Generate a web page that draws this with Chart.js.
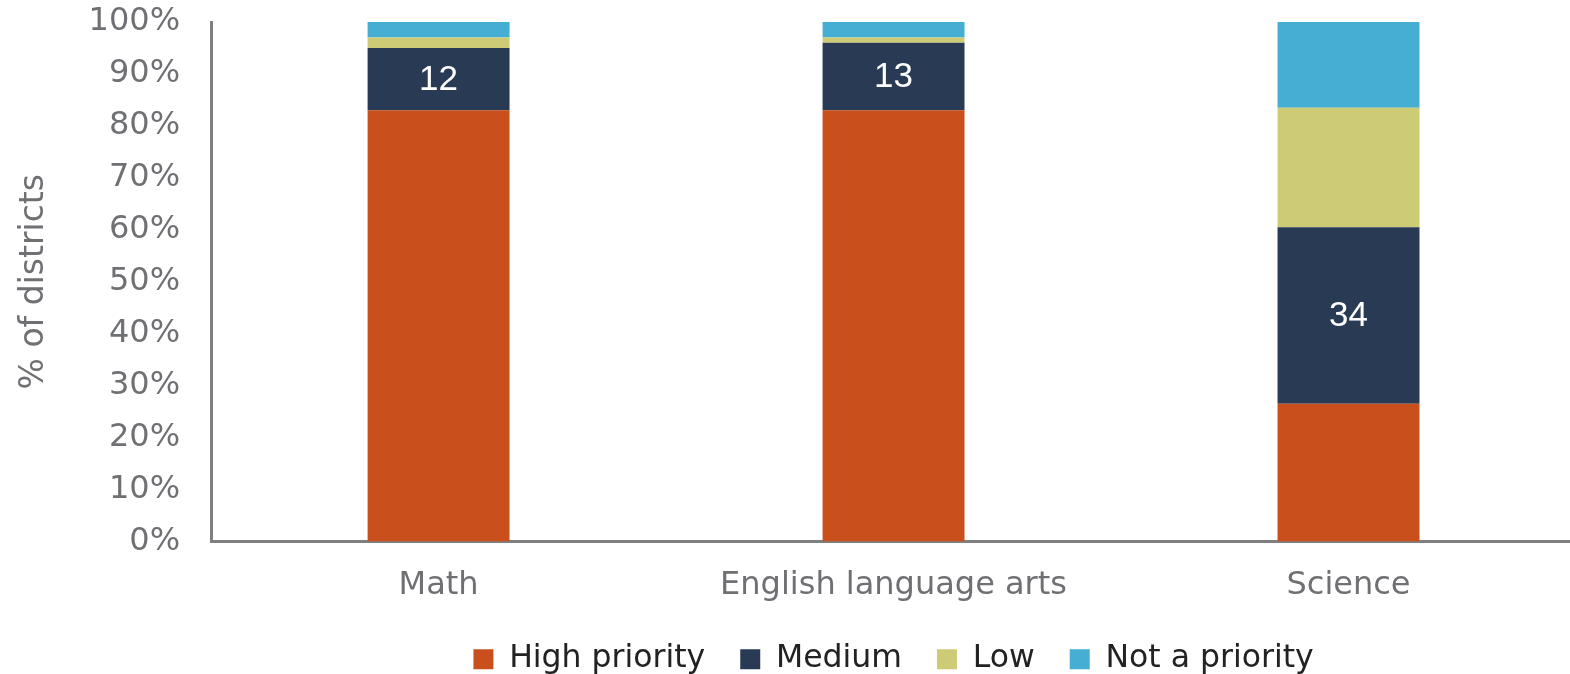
<!DOCTYPE html>
<html>
<head>
<meta charset="utf-8">
<script src="https://cdn.jsdelivr.net/npm/chart.js@4/dist/chart.umd.min.js"></script>
<style>
    html, body { margin: 0; padding: 0; background: #fff; overflow: hidden; }
    #wrap { width: 1576px; height: 674px; }
</style>
</head>
<body>
<div id="wrap"><canvas id="priority-chart"></canvas></div>
<script>
    // Share of districts by priority level, per subject
    var subjects     = ['Math', 'English language arts', 'Science'];
    var highPriority = [83, 83, 26.5];
    var medium       = [12, 13, 34];
    var low          = [2, 1, 23];
    var notPriority  = [3, 3, 16.5];
    var yTicks       = [0, 10, 20, 30, 40, 50, 60, 70, 80, 90, 100];

    var GREY = '#6f7073';
    var FONT = 'DejaVu Sans';

    // white numbers inside the "Medium" segments
    var mediumLabels = {
        id: 'mediumLabels',
        afterDatasetsDraw: function (chart) {
            var ctx = chart.ctx;
            var meta = chart.getDatasetMeta(1);
            ctx.save();
            ctx.fillStyle = '#ffffff';
            ctx.font = '35px "Liberation Sans"';
            ctx.textAlign = 'center';
            ctx.textBaseline = 'middle';
            meta.data.forEach(function (bar, i) {
                var mid = (bar.y + bar.base) / 2;
                ctx.fillText(String(medium[i]), bar.x, mid + 1);
            });
            ctx.restore();
        }
    };

    // keep the legend centred under the plot area rather than the canvas
    var legendUnderPlot = {
        id: 'legendUnderPlot',
        afterLayout: function (chart) {
            var lg = chart.legend, area = chart.chartArea;
            if (!lg || !area) return;
            var dx = (area.left + area.right) / 2 - (lg.left + lg.right) / 2;
            lg.left += dx;
            lg.right += dx;
        }
    };

    function ds(label, data, color) {
        return {
            label: label,
            data: data,
            backgroundColor: color,
            borderWidth: 0,
            barPercentage: 0.312,
            categoryPercentage: 1
        };
    }

    new Chart(document.getElementById('priority-chart'), {
        type: 'bar',
        data: {
            labels: subjects,
            datasets: [
                ds('High priority', highPriority, '#c9501c'),
                ds('Medium', medium, '#293a54'),
                ds('Low', low, '#cdcb76'),
                ds('Not a priority', notPriority, '#45aed2')
            ]
        },
        plugins: [mediumLabels, legendUnderPlot],
        options: {
            responsive: true,
            maintainAspectRatio: false,
            animation: false,
            layout: { padding: { top: 0, left: 15, right: 0, bottom: -11 } },
            plugins: {
                tooltip: { enabled: false },
                legend: {
                    position: 'bottom',
                    labels: {
                        boxWidth: 20,
                        boxHeight: 20,
                        padding: 35,
                        color: '#222222',
                        font: { size: 31.5, family: FONT }
                    }
                }
            },
            scales: {
                x: {
                    stacked: true,
                    grid: { display: false, drawTicks: false },
                    border: { display: true, color: '#7f7f7f', width: 3 },
                    ticks: { color: GREY, padding: 25, font: { size: 32, family: FONT } },
                    afterFit: function (scale) { scale.height = 67; }
                },
                y: {
                    stacked: true,
                    min: 0,
                    max: 100,
                    afterBuildTicks: function (axis) {
                        axis.ticks = yTicks.map(function (v) { return { value: v }; });
                    },
                    afterFit: function (scale) {
                        scale.paddingTop = 22;
                        scale.paddingBottom = 10;
                    },
                    grid: { display: false, drawTicks: false },
                    border: { display: true, color: '#7f7f7f', width: 3 },
                    ticks: {
                        color: GREY,
                        padding: 31,
                        font: { size: 32, family: FONT },
                        callback: function (v) { return v + '%'; }
                    },
                    title: {
                        display: true,
                        text: '% of districts',
                        color: GREY,
                        padding: { top: 0, bottom: 3 },
                        font: { size: 33, family: FONT }
                    }
                }
            }
        }
    });
</script>
</body>
</html>
